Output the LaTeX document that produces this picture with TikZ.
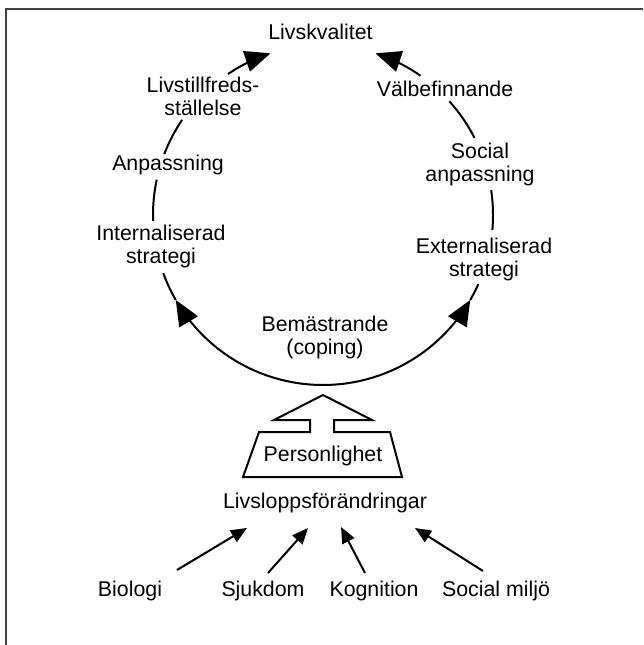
\documentclass[tikz,border=0pt]{standalone}
\usepackage{fontspec}
\setmainfont{Liberation Sans}
\usetikzlibrary{arrows.meta}
\newcommand\twol[2]{\begin{tabular}[t]{@{}c@{}}#1\\#2\end{tabular}}
\tikzset{
  lbl/.style={font=\fontsize{16}{17.25}\selectfont, inner sep=0pt, anchor=base},
  circ/.style={line width=1.5pt},
  bigarrE/.style={circ, -{Triangle[length=19pt,width=16pt]}},
  bigarrS/.style={circ, {Triangle[length=19pt,width=16pt]}-},
  smallarr/.style={line width=1.5pt, -{Triangle[length=12pt,width=10pt]}},
  framec/.style={line width=1.5pt, draw=black!75},
  blockc/.style={line width=1.5pt, line join=miter},
}
\begin{document}
\begin{tikzpicture}[x=0.75pt,y=-0.75pt]
\useasboundingbox (0,0) rectangle (643,645);
% frame (partially visible)
\draw[framec] (6,645) -- (6,9) -- (643,9);

% labels
\node[lbl] (lq)   at (320.5,40)  {Livskvalitet};
\node[lbl] (lt)   at (203,92.5)  {\twol{Livstillfreds-}{ställelse}};
\node[lbl] (anp)  at (168,170.5) {Anpassning};
\node[lbl] (intl) at (161,240.5) {\twol{Internaliserad}{strategi}};
\node[lbl] (bem)  at (325,331.5) {\twol{Bemästrande}{(coping)}};
\node[lbl] (vb)   at (445,96.5)  {Välbefinnande};
\node[lbl] (soc)  at (480,159)   {\twol{Social}{anpassning}};
\node[lbl] (ext)  at (484,253)   {\twol{Externaliserad}{strategi}};
\node[lbl] (pers) at (323,461.5) {Personlighet};
\node[lbl] (llf)  at (325,508)   {Livsloppsförändringar};
\node[lbl] (bio)  at (130,596)   {Biologi};
\node[lbl] (sjuk) at (263,596)   {Sjukdom};
\node[lbl] (kog)  at (374,596)   {Kognition};
\node[lbl] (socm) at (496,596)   {Social miljö};

% circle arcs (centre (323,215), radius 170)
\def\cx{323}\def\cy{215}\def\rr{170}
\draw[bigarrE] plot[domain=236:252, samples=30, variable=\t] ({\cx+\rr*cos(\t)},{\cy+\rr*sin(\t)});
\draw[bigarrS] plot[domain=288:305, samples=30, variable=\t] ({\cx+\rr*cos(\t)},{\cy+\rr*sin(\t)});
\draw[circ] plot[domain=201:214, samples=20, variable=\t] ({\cx+\rr*cos(\t)},{\cy+\rr*sin(\t)});
\draw[circ] plot[domain=178:192, samples=20, variable=\t] ({\cx+\rr*cos(\t)},{\cy+\rr*sin(\t)});
\draw[bigarrE] plot[domain=90:150, samples=60, variable=\t] ({\cx+\rr*cos(\t)},{\cy+\rr*sin(\t)});
\draw[circ] plot[domain=150:160, samples=10, variable=\t] ({\cx+\rr*cos(\t)},{\cy+\rr*sin(\t)});
\draw[bigarrS] plot[domain=30:90, samples=60, variable=\t] ({\cx+\rr*cos(\t)},{\cy+\rr*sin(\t)});
\draw[circ] plot[domain=24:30, samples=10, variable=\t] ({\cx+\rr*cos(\t)},{\cy+\rr*sin(\t)});
\draw[circ] plot[domain=318:333, samples=20, variable=\t] ({\cx+\rr*cos(\t)},{\cy+\rr*sin(\t)});
\draw[circ] plot[domain=351.6:365, samples=20, variable=\t] ({\cx+\rr*cos(\t)},{\cy+\rr*sin(\t)});

% block arrow with trapezoid around Personlighet
\draw[blockc] (243,477) -- (259,432) -- (310,432) -- (310,420) -- (274,420) -- (323,395)
  -- (372,420) -- (334,420) -- (334,432) -- (390,432) -- (402,477) -- cycle;

% influences
\coordinate (bioT) at (177,570);  \coordinate (bioH) at (247,528);
\coordinate (sjT)  at (268,573);  \coordinate (sjH)  at (308,528);
\coordinate (kgT)  at (365,573);  \coordinate (kgH)  at (341,527);
\coordinate (smT)  at (483,571);  \coordinate (smH)  at (415,528);
\draw[smallarr] (bioT) -- (bioH);
\draw[smallarr] (sjT) -- (sjH);
\draw[smallarr] (kgT) -- (kgH);
\draw[smallarr] (smT) -- (smH);
\end{tikzpicture}
\end{document}
